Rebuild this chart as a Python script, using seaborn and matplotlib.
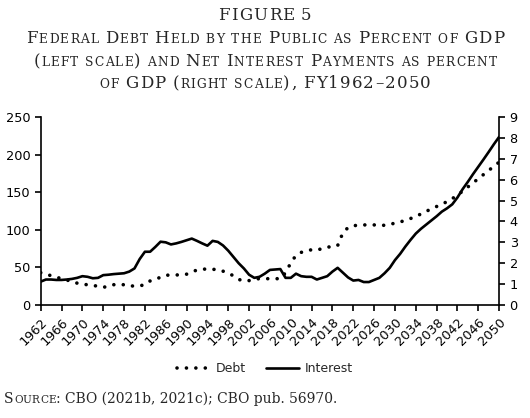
import numpy as np
import pandas as pd
import seaborn as sns
import matplotlib.pyplot as plt

# datos
years = list(range(1962, 2051))

debt = [43, 41, 39, 37, 35, 33, 32, 29, 27.5, 27,
        26, 25, 23.5, 25, 27, 27, 27, 25, 25.5, 25.5,
        27, 32, 34, 37, 39.5, 40, 40, 40, 41, 44,
        46.5, 47.5, 48, 47.5, 47, 45, 42, 39, 34, 32,
        32.5, 34.5, 35, 35, 35, 35, 35, 43, 56, 66,
        70, 72, 73.5, 73, 75, 77, 77.5, 79, 96, 103,
        105.5, 106, 106.5, 106.5, 106.5, 106, 106, 107, 109, 110.5,
        112.5, 115, 118, 121, 124.5, 128, 131, 134, 137.5, 141.5,
        146, 151.5, 157, 162.5, 168, 173.5, 179, 184.5, 190]

interest = [1.12, 1.22, 1.22, 1.2, 1.2, 1.22, 1.25, 1.3, 1.38, 1.35,
            1.28, 1.3, 1.43, 1.45, 1.48, 1.5, 1.52, 1.6, 1.75, 2.2,
            2.55, 2.55, 2.78, 3.03, 3.0, 2.9, 2.95, 3.02, 3.1, 3.18,
            3.07, 2.95, 2.84, 3.07, 3.02, 2.85, 2.6, 2.3, 2.0, 1.75,
            1.45, 1.3, 1.35, 1.5, 1.68, 1.7, 1.72, 1.3, 1.3, 1.5,
            1.38, 1.35, 1.35, 1.22, 1.3, 1.38, 1.6, 1.78, 1.55, 1.32,
            1.17, 1.2, 1.1, 1.1, 1.2, 1.3, 1.52, 1.78, 2.15, 2.45,
            2.8, 3.12, 3.42, 3.65, 3.85, 4.05, 4.25, 4.47, 4.63, 4.82,
            5.15, 5.55, 5.9, 6.27, 6.62, 6.97, 7.33, 7.7, 8.05]

left_ticks = [0, 50, 100, 150, 200, 250]
right_ticks = list(range(0, 10))
x_ticks = list(range(1962, 2051, 4))

df = pd.DataFrame({'Year': years, 'Debt': debt, 'Interest': interest})

sns.set_style('ticks')
plt.rcParams['font.family'] = ['DejaVu Sans']
plt.rcParams['xtick.major.size'] = 4
plt.rcParams['ytick.major.size'] = 4

fig = plt.figure(figsize=(5.3, 4.18), dpi=100)
ax = fig.add_axes([0.0768, 0.2703, 0.865, 0.4498])
ax2 = ax.twinx()

sns.lineplot(data=df, x='Year', y='Debt', ax=ax, color='black', lw=2.6,
             linestyle=(0, (0.01, 2.6)), dash_capstyle='round', label='Debt', legend=False)
sns.lineplot(data=df, x='Year', y='Interest', ax=ax2, color='black', lw=1.9,
             label='Interest', legend=False)

ax.set_xlim(1962, 2050)
ax.set_ylim(0, 250)
ax2.set_ylim(0, 9)
ax.set_yticks(left_ticks)
ax2.set_yticks(right_ticks)
ax.set_xticks(x_ticks)
ax.set_xticklabels([str(y) for y in x_ticks], rotation=45, ha='right', rotation_mode='anchor')
ax.set_xlabel('')
ax.set_ylabel('')
ax2.set_ylabel('')
for a in (ax, ax2):
    a.tick_params(labelsize=9.3, width=1.2, color='black', labelcolor='black')
    a.spines['top'].set_visible(False)
    for s in ('left', 'right', 'bottom'):
        a.spines[s].set_linewidth(1.2)
        a.spines[s].set_color('black')
ax.spines['right'].set_visible(False)
ax2.spines['left'].set_visible(False)
ax2.spines['bottom'].set_visible(False)

h1, l1 = ax.get_legend_handles_labels()
h2, l2 = ax2.get_legend_handles_labels()
fig.legend(h1 + h2, l1 + l2, loc='center', bbox_to_anchor=(0.5, 0.118), ncol=2,
           frameon=False, fontsize=9, handlelength=2.6, columnspacing=1.6, handletextpad=0.5)

# versalitas a mano: letras minusculas en mayuscula mas chica, letra por letra
renderer = fig.canvas.get_renderer()
W = fig.bbox.width


def versalitas(y, texto, grande=12, chica=8.8, x=0.5, ha='center', extra=1.2,
               espacio=0.25, familia='DejaVu Serif'):
    textos = []
    ancho = 0
    for c in texto:
        chiquita = c.islower()
        tam = chica if chiquita else grande
        txt = fig.text(0, y, c.upper() if chiquita else c, fontsize=tam,
                       family=familia, va='baseline')
        if c == ' ':
            w = grande * espacio * 100 / 72
        else:
            w = txt.get_window_extent(renderer).width
        w += extra
        textos.append((txt, w))
        ancho += w
    ancho -= extra
    x0 = x * W - ancho / 2 if ha == 'center' else x * W
    for txt, w in textos:
        txt.set_x(x0 / W)
        x0 += w
    return x0 / W


versalitas(1 - 20 / 418, 'FIGURE 5')
versalitas(1 - 43 / 418, 'Federal Debt Held by the Public as Percent of GDP')
versalitas(1 - 66 / 418, '(left scale) and Net Interest Payments as percent')
versalitas(1 - 88 / 418, 'of GDP (right scale), FY1962\u20132050')
fin = versalitas(1 - 403 / 418, 'Source', grande=10, chica=7.6, x=0.008, ha='left', extra=0.2)
fig.text(fin, 1 - 403 / 418, ': CBO (2021b, 2021c); CBO pub. 56970.',
         fontsize=10, family='DejaVu Serif', va='baseline')

fig.savefig('out.png', dpi=100)
